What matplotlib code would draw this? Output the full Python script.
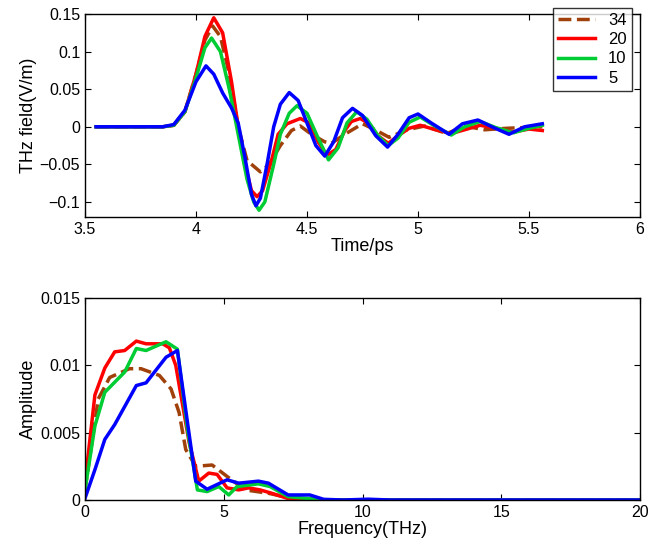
import matplotlib
matplotlib.use("Agg")
import matplotlib.pyplot as plt

plt.rcParams['font.family'] = ['Liberation Sans', 'DejaVu Sans']
plt.rcParams['font.size'] = 11.5

labels = ["34", "20", "10", "5"]
colors = ["#a0400a", "#ff0000", "#00cc33", "#0000ff"]
styles = ["--", "-", "-", "-"]

t34 = [3.55,3.85,3.90,3.95,4.00,4.04,4.075,4.11,4.15,4.19,4.23,4.29,4.33,4.38,4.43,4.47,4.52,4.58,4.61,4.67,4.75,4.80,4.87,4.95,5.03,5.13,5.21,5.30,5.40,5.56]
e34 = [0,0,0.002,0.02,0.07,0.115,0.134,0.12,0.07,0.0,-0.045,-0.06,-0.05,-0.025,-0.005,0.001,-0.01,-0.020,-0.022,-0.01,0.004,-0.003,-0.014,-0.004,0.001,-0.009,0.001,-0.004,-0.002,0]
t20 = [3.55,3.85,3.90,3.95,4.00,4.04,4.08,4.12,4.16,4.19,4.22,4.25,4.275,4.30,4.34,4.37,4.41,4.47,4.51,4.55,4.59,4.63,4.67,4.70,4.74,4.78,4.82,4.866,4.91,4.96,5.01,5.08,5.15,5.21,5.28,5.35,5.43,5.50,5.56]
e20 = [0,0,0.002,0.02,0.07,0.12,0.145,0.125,0.06,0.0,-0.05,-0.085,-0.093,-0.085,-0.045,-0.01,0.004,0.011,0.005,-0.02,-0.038,-0.03,-0.005,0.007,0.011,0.004,-0.012,-0.022,-0.012,-0.002,0.002,-0.004,-0.009,-0.004,0.002,-0.002,-0.007,-0.003,-0.005]
t10 = [3.55,3.85,3.90,3.95,4.00,4.04,4.07,4.11,4.15,4.19,4.23,4.26,4.284,4.31,4.35,4.38,4.42,4.455,4.50,4.55,4.597,4.64,4.68,4.724,4.77,4.82,4.866,4.91,4.96,5.01,5.07,5.15,5.21,5.28,5.35,5.43,5.50,5.56]
e10 = [0,0,0.002,0.02,0.065,0.105,0.118,0.10,0.05,-0.01,-0.07,-0.10,-0.111,-0.10,-0.05,-0.01,0.018,0.028,0.018,-0.015,-0.044,-0.028,0.005,0.020,0.010,-0.012,-0.025,-0.015,0.006,0.013,0.002,-0.011,0.0,0.007,-0.001,-0.008,-0.002,0.002]
t5 = [3.55,3.85,3.90,3.95,4.00,4.045,4.08,4.12,4.16,4.19,4.22,4.25,4.27,4.29,4.32,4.35,4.38,4.42,4.46,4.50,4.54,4.58,4.62,4.66,4.705,4.75,4.81,4.863,4.91,4.96,5.00,5.06,5.14,5.20,5.27,5.34,5.41,5.48,5.56]
e5 = [0,0,0.003,0.022,0.06,0.081,0.07,0.045,0.025,0.005,-0.04,-0.09,-0.105,-0.095,-0.05,0.0,0.03,0.0455,0.035,0.005,-0.025,-0.039,-0.02,0.012,0.0245,0.015,-0.012,-0.027,-0.01,0.012,0.017,0.005,-0.010,0.004,0.009,-0.001,-0.010,0.0,0.004]

f34 = [0,0.476,0.89,1.6,2.02,2.68,3.1,3.39,3.63,3.99,4.58,5.12,5.77,6.61,7.44,8.5,20]
a34 = [0.00075,0.0075,0.0091,0.00975,0.00975,0.00925,0.00825,0.0065,0.00375,0.0025,0.0026,0.00175,0.00075,0.0005,0.000125,0,0]
f20 = [0,0.357,0.714,1.07,1.43,1.85,2.2,2.8,3.04,3.27,3.75,4.1,4.46,4.76,5.12,5.54,5.89,6.31,6.73,7.3,8.2,20]
a20 = [0.00125,0.0078,0.0098,0.011,0.0111,0.0118,0.0116,0.0116,0.0113,0.01,0.0043,0.0014,0.002,0.0019,0.0009,0.00075,0.0009,0.00075,0.0005,0.00012,0,0]
f10 = [0,0.357,0.714,1.43,1.85,2.2,2.92,3.33,3.69,4.05,4.4,4.82,5.18,5.48,6.25,6.67,7.32,8.6,20]
a10 = [0.00075,0.0055,0.008,0.0095,0.01125,0.0111,0.01175,0.0112,0.00525,0.00075,0.000625,0.001,0.000375,0.001,0.0012,0.001,0.00025,0,0]
f5 = [0,0.357,0.714,1.07,1.85,2.2,2.92,3.33,3.99,4.4,5.12,5.54,6.25,6.61,7.32,8.1,8.6,9.3,10.2,11.0,20]
a5 = [0.000125,0.00225,0.0045,0.0056,0.0085,0.0087,0.0106,0.0111,0.0014,0.0008,0.0015,0.00125,0.0014,0.00125,0.000375,0.000375,0.00005,0,0.00006,0,0]

W, H = 654, 553
fig = plt.figure(figsize=(W/100, H/100), dpi=100)
ax1 = fig.add_axes([85/W, 1-217/H, (640-85)/W, (217-14)/H])
ax2 = fig.add_axes([85/W, 1-500/H, (640-85)/W, (500-298)/H])

for t, e, lab, c, s in zip([t34, t20, t10, t5], [e34, e20, e10, e5], labels, colors, styles):
    ax1.plot(t, e, s, color=c, lw=2.5, label=lab)
for f, a, c, s in zip([f34, f20, f10, f5], [a34, a20, a10, a5], colors, styles):
    ax2.plot(f, a, s, color=c, lw=2.5)

ax1.set_xlim(3.5, 6)
ax1.set_ylim(-0.12, 0.15)
ax1.set_xticks([3.5, 4, 4.5, 5, 5.5, 6])
ax1.set_xticklabels(["3.5", "4", "4.5", "5", "5.5", "6"])
ax1.set_yticks([-0.1, -0.05, 0, 0.05, 0.1, 0.15])
ax1.set_yticklabels(["\u22120.1", "\u22120.05", "0", "0.05", "0.1", "0.15"])
ax1.set_xlabel("Time/ps", fontsize=13, labelpad=1)
ax1.set_ylabel("THz field(V/m)", fontsize=13, labelpad=2)
leg = ax1.legend(loc="upper right", bbox_to_anchor=(1.0, 1.07), frameon=True, fancybox=False,
                 edgecolor="black", fontsize=12, handlelength=2.2, borderpad=0.3, labelspacing=0.25)
leg.get_frame().set_linewidth(1.0)

ax2.set_xlim(0, 20)
ax2.set_ylim(0, 0.015)
ax2.set_xticks([0, 5, 10, 15, 20])
ax2.set_yticks([0, 0.005, 0.01, 0.015])
ax2.set_yticklabels(["0", "0.005", "0.01", "0.015"])
ax2.set_xlabel("Frequency(THz)", fontsize=13, labelpad=1)
ax2.set_ylabel("Amplitude", fontsize=13, labelpad=2)

for ax in (ax1, ax2):
    ax.tick_params(direction="in", top=True, right=True, length=4, labelsize=11.5)
    for sp in ax.spines.values():
        sp.set_linewidth(1.0)

fig.savefig("out.png", dpi=100)
